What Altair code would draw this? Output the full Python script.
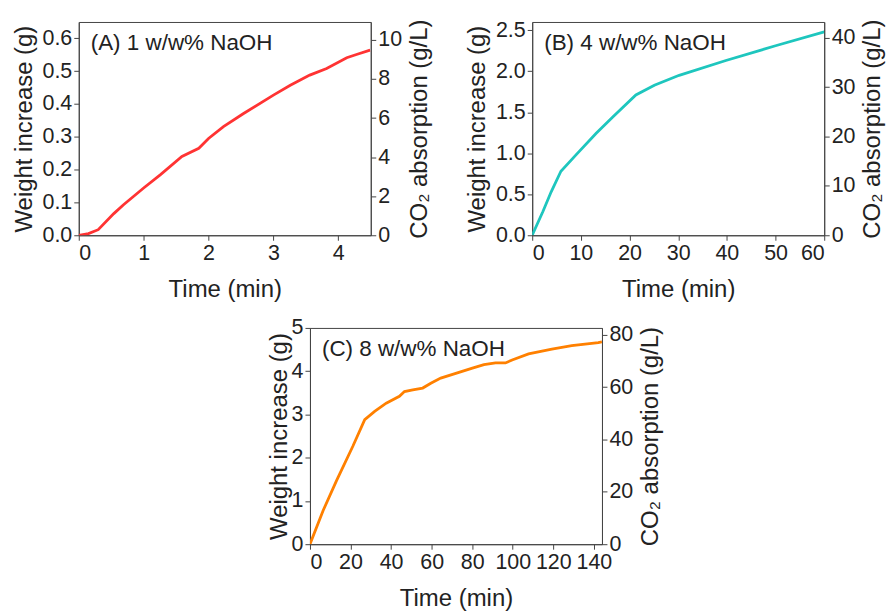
import altair as alt
import pandas as pd

FONT = "Liberation Sans"

# Panel A: 1 w/w% NaOH
a_time = [0, 0.15, 0.3, 0.54, 0.69, 1.0, 1.26, 1.59, 1.85, 2.0, 2.23, 2.54, 3.0, 3.26, 3.56, 3.82, 4.13, 4.28, 4.49]
a_weight = [0, 0.005, 0.017, 0.066, 0.093, 0.144, 0.185, 0.24, 0.265, 0.295, 0.331, 0.371, 0.427, 0.457, 0.488, 0.508, 0.541, 0.551, 0.564]

# Panel B: 4 w/w% NaOH
b_time = [0, 2.2, 3.9, 5.9, 9.0, 13.1, 16.5, 21.3, 25.1, 30.2, 39.8, 50, 60]
b_weight = [0, 0.29, 0.53, 0.78, 0.98, 1.24, 1.44, 1.71, 1.83, 1.95, 2.13, 2.31, 2.48]

# Panel C: 8 w/w% NaOH
c_time = [0, 6.5, 13.1, 21.2, 27.0, 31.9, 37.6, 44.1, 46.6, 50.7, 55.6, 59.6, 64.5, 71.9, 80.1, 85.8, 91.5, 96.4, 99.7, 107.8, 119.3, 129.1, 142.2, 144]
c_weight = [0, 0.78, 1.47, 2.27, 2.88, 3.07, 3.26, 3.42, 3.53, 3.57, 3.61, 3.72, 3.84, 3.95, 4.07, 4.15, 4.19, 4.19, 4.26, 4.40, 4.51, 4.59, 4.66, 4.68]

labels = ["(A) 1 w/w% NaOH", "(B) 4 w/w% NaOH", "(C) 8 w/w% NaOH"]

a_xticks = [0, 1, 2, 3, 4]
a_yticks = [0.0, 0.1, 0.2, 0.3, 0.4, 0.5, 0.6]
a_rticks = [0, 2, 4, 6, 8, 10]
b_xticks = [0, 10, 20, 30, 40, 50, 60]
b_yticks = [0.0, 0.5, 1.0, 1.5, 2.0, 2.5]
b_rticks = [0, 10, 20, 30, 40]
c_xticks = [0, 20, 40, 60, 80, 100, 120, 140]
c_yticks = [0, 1, 2, 3, 4, 5]
c_rticks = [0, 20, 40, 60, 80]


def panel(times, weights, color, label, xmax, xticks, ymax, yticks, yfmt,
          factor, rticks, w, h, ltp=6):
    df = pd.DataFrame({"t": times, "w": weights})
    xscale = alt.Scale(domain=[0, xmax], nice=False, zero=True)
    xaxis = alt.Axis(values=xticks, title="Time (min)", format="d",
                     titlePadding=14)
    base = alt.Chart(df)
    left = base.mark_line(color=color, strokeWidth=2.8, clip=True).encode(
        x=alt.X("t:Q", scale=xscale, axis=xaxis),
        y=alt.Y("w:Q", scale=alt.Scale(domain=[0, ymax], nice=False),
                axis=alt.Axis(values=yticks, format=yfmt, titlePadding=ltp,
                              title="Weight increase (g)")),
    )
    right = base.transform_calculate(c=f"datum.w * {factor}").mark_line(
        opacity=0).encode(
        x=alt.X("t:Q", scale=xscale, axis=xaxis),
        y=alt.Y("c:Q", scale=alt.Scale(domain=[0, ymax * factor], nice=False),
                axis=alt.Axis(orient="right", values=rticks, format="d",
                              title="CO₂ absorption (g/L)", titleAngle=270,
                              titleBaseline="top", titlePadding=6)),
    )
    text = alt.Chart(pd.DataFrame({"label": [label]})).mark_text(
        align="left", baseline="alphabetic", fontSize=22.5, font=FONT,
        color="#222").encode(
        x=alt.value(12), y=alt.value(28), text="label:N")
    return alt.layer(left, right, text).resolve_scale(y="independent").properties(
        width=w, height=h)


pa = panel(a_time, a_weight, "#FF3333", labels[0], 4.5, a_xticks, 0.65, a_yticks,
           ".1f", 16.8, a_rticks, 293, 214)
pb = panel(b_time, b_weight, "#1EC6BE", labels[1], 60, b_xticks, 2.6, b_yticks,
           ".1f", 16.62, b_rticks, 293, 214)
pc = panel(c_time, c_weight, "#FF8000", labels[2], 144, c_xticks, 5, c_yticks,
           "d", 16.53, c_rticks, 293, 217, ltp=0)

spacer = alt.Chart(pd.DataFrame({"v": [0]})).mark_point(opacity=0).encode(
    x=alt.value(0), y=alt.value(0)
).properties(width=187, height=10, view=alt.ViewBackground(stroke="transparent"))

top = alt.hconcat(pa, pb, spacing=32)
bottom = alt.hconcat(spacer, pc, spacing=0)
chart = alt.vconcat(top, bottom, spacing=14).properties(
    padding={"left": 3, "top": 9, "right": 0, "bottom": 0},
    background="white",
).configure_axis(
    labelFont=FONT, titleFont=FONT, labelFontSize=21.5, titleFontSize=24,
    titleFontWeight="normal", labelColor="#222", titleColor="#222",
    domainColor="#444", tickColor="#444", tickSize=5, labelPadding=2,
    titlePadding=6, grid=False,
).configure_view(stroke="#444", strokeWidth=1)

chart.save("out.html", embed_options={"renderer": "svg", "actions": False})
